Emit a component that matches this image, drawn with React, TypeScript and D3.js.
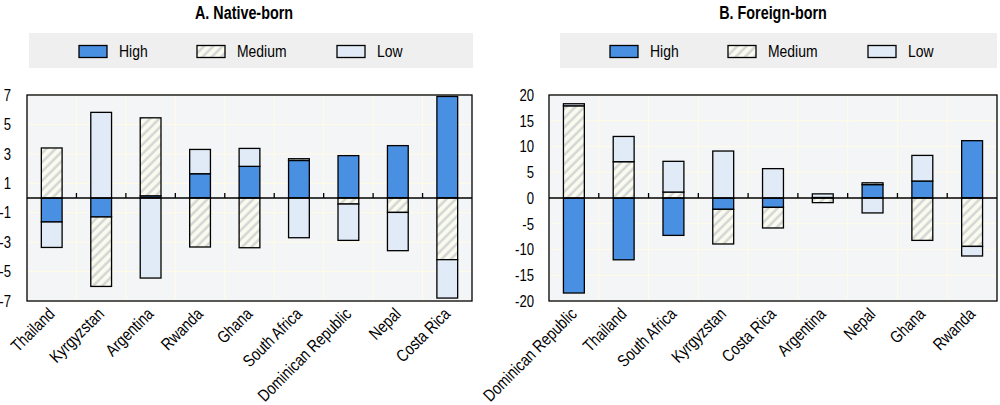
import React from "react";
import * as d3 from "d3";

// Panel A: native-born
const catsA = ["Thailand", "Kyrgyzstan", "Argentina", "Rwanda", "Ghana", "South Africa", "Dominican Republic", "Nepal", "Costa Rica"];
const highA = [-1.63, -1.29, 0.15, 1.65, 2.15, 2.55, 2.88, 3.56, 6.9];
const medA = [3.4, -4.72, 5.3, -3.33, -3.38, 0.12, -0.41, -0.98, -4.19];
const lowA = [-1.73, 5.82, -5.44, 1.65, 1.22, -2.7, -2.47, -2.6, -2.61];
const ticksA = [7, 5, 3, 1, -1, -3, -5, -7];

// Panel B: foreign-born
const catsB = ["Dominican Republic", "Thailand", "South Africa", "Kyrgyzstan", "Costa Rica", "Argentina", "Nepal", "Ghana", "Rwanda"];
const highB = [-18.45, -12.0, -7.26, -2.2, -1.82, 0.1, 2.6, 3.3, 11.13];
const medB = [17.9, 7.05, 1.16, -6.73, -4.0, -0.9, 0.35, -8.23, -9.4];
const lowB = [0.4, 4.9, 5.96, 9.12, 5.7, 0.7, -2.9, 4.97, -1.86];
const ticksB = [20, 15, 10, 5, 0, -5, -10, -15, -20];

const levels = ["High", "Medium", "Low"];

const HIGH = "#4a90e2";
const LOW = "#e1ebf7";
const FONT = "'Liberation Sans', Arial, sans-serif";

const fills = [HIGH, "url(#hatch)", LOW];

// narrow-looking text: squeeze Liberation Sans horizontally
const NText = ({ x, y, size, anchor = "start", bold = false, rotate = 0, dy, children }:
  { x: number; y: number; size: number; anchor?: string; bold?: boolean; rotate?: number; dy?: string; children: React.ReactNode }) => (
  <text transform={`translate(${x},${y}) rotate(${rotate}) scale(0.82,1)`} textAnchor={anchor}
    fontSize={size} fontWeight={bold ? "bold" : "normal"} dy={dy}>{children}</text>
);

type PanelProps = {
  title: string;
  cats: string[];
  series: number[][];
  ticks: number[];
  x0: number;
  x1: number;
  legendX: number;
  legendW: number;
  titleX: number;
  tickGap: number;
};

const Panel = ({ title, cats, series, ticks, x0, x1, legendX, legendW, titleX, tickGap }: PanelProps) => {
  const y0 = 95, y1 = 301;
  const lim = d3.max(ticks)!;
  const x = d3.scaleBand<string>().domain(cats).range([x0, x1]).paddingInner(0).paddingOuter(0);
  const y = d3.scaleLinear().domain([-lim, lim]).range([y1, y0]);
  const bw = x.bandwidth() * 0.42;

  // diverging stack, High -> Medium -> Low on each side of zero
  const segs: { key: string; i: number; a: number; b: number; fill: string }[] = [];
  cats.forEach((c, j) => {
    let pos = 0, neg = 0;
    series.forEach((s, i) => {
      const v = s[j];
      if (v >= 0) { segs.push({ key: c, i, a: pos, b: pos + v, fill: fills[i] }); pos += v; }
      else { segs.push({ key: c, i, a: neg, b: neg + v, fill: fills[i] }); neg += v; }
    });
  });

  const bounds = cats.slice(1).map((c) => x(c)!);

  return (
    <g fontFamily={FONT} fill="#000">
      <NText x={titleX} y={19} anchor="middle" bold size={17.5}>{title}</NText>
      <rect x={legendX} y={33} width={legendW} height={35} fill="#efefef" />
      {levels.map((l, i) => {
        const lx = legendX + [50, 168, 308][i];
        return (
          <g key={l}>
            <rect x={lx} y={45.5} width={28} height={12} fill={fills[i]} stroke="#000" strokeWidth={1.3} />
            <NText x={lx + 40} y={57} size={17}>{l}</NText>
          </g>
        );
      })}
      <rect x={x0} y={y0} width={x1 - x0} height={y1 - y0} fill="#f4f5f7" />
      {ticks.map((t) => (
        <line key={t} x1={x0} x2={x1} y1={y(t)} y2={y(t)} stroke="#fffbe6" strokeWidth={1} />
      ))}
      {bounds.map((bx, i) => (
        <line key={i} x1={bx} x2={bx} y1={y0} y2={y1} stroke="#fffbe6" strokeWidth={1} />
      ))}
      {ticks.map((t) => (
        <NText key={t} x={x0 - tickGap} y={y(t)} dy="0.36em" anchor="end" size={16}>{t}</NText>
      ))}
      {segs.map((s, k) => (
        <rect key={k} x={x(s.key)! + (x.bandwidth() - bw) / 2} width={bw}
          y={y(Math.max(s.a, s.b))} height={Math.abs(y(s.a) - y(s.b))}
          fill={s.fill} stroke="#000" strokeWidth={1.3} />
      ))}
      <line x1={x0} x2={x1} y1={y(0)} y2={y(0)} stroke="#000" strokeWidth={1.3} />
      {bounds.map((bx, i) => (
        <line key={i} x1={bx} x2={bx} y1={y(0) - 5} y2={y(0)} stroke="#000" strokeWidth={1.3} />
      ))}
      <rect x={x0} y={y0} width={x1 - x0} height={y1 - y0} fill="none" stroke="#000" strokeWidth={1.3} />
      {cats.map((c) => (
        <NText key={c} x={x(c)! + x.bandwidth() / 2 + 4} y={y1 + 14} rotate={-45} anchor="end" size={17}>{c}</NText>
      ))}
    </g>
  );
};

export default function App() {
  return (
    <svg width={1000} height={405} style={{ position: "absolute", left: 0, top: 0, background: "#fff" }}>
      <defs>
        <pattern id="hatch" width={6.5} height={6.5} patternUnits="userSpaceOnUse" patternTransform="rotate(45)">
          <rect width={6.5} height={6.5} fill="#fafaee" />
          <line x1={1.5} x2={1.5} y1={0} y2={6.5} stroke="#d3d7d5" strokeWidth={2.5} />
        </pattern>
      </defs>
      <Panel title="A. Native-born" cats={catsA} series={[highA, medA, lowA]} ticks={ticksA}
        x0={27} x1={472} legendX={29} legendW={444} titleX={244} tickGap={16} />
      <Panel title="B. Foreign-born" cats={catsB} series={[highB, medB, lowB]} ticks={ticksB}
        x0={549} x1={997} legendX={560} legendW={437} titleX={773} tickGap={15} />
    </svg>
  );
}
